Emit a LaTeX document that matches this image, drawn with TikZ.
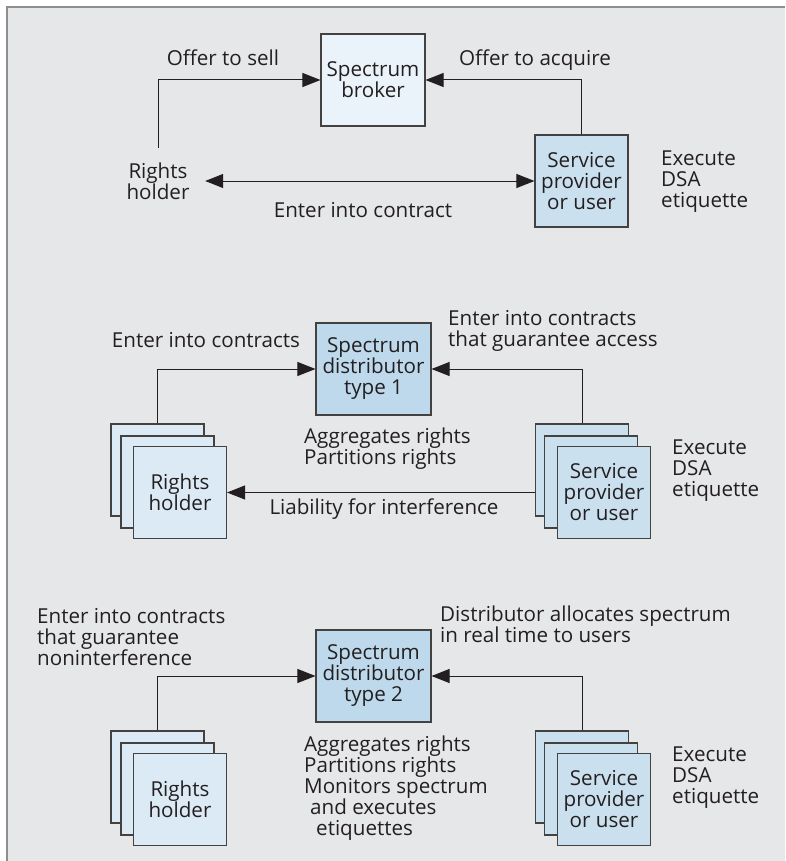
\documentclass[tikz,border=0pt]{standalone}
\usepackage{fontspec}
\setmainfont{Open Sans}
\usetikzlibrary{arrows.meta}
\definecolor{panelgray}{HTML}{E6E7E9}
\definecolor{framegray}{HTML}{8E8E90}
\definecolor{brokerblue}{HTML}{EBF3FA}
\definecolor{userblue}{HTML}{CBE0EF}
\definecolor{distblue}{HTML}{BDD9EB}
\definecolor{holderblue}{HTML}{DCEAF5}
\definecolor{inkgray}{HTML}{231F20}
\begin{document}
\begin{tikzpicture}[x=1pt, y=-1pt,
  every node/.style={font=\fontsize{20.6}{21}\selectfont, text=inkgray},
  box/.style={draw=inkgray!85, line width=1.1pt, minimum width=93pt, minimum height=92pt, inner sep=0pt, align=center},
  lbl/.style={inner sep=0pt, align=left},
  arr/.style={draw=inkgray, line width=1pt, -{Triangle[length=18pt,width=14pt]}},
  dblarr/.style={arr, {Triangle[length=18pt,width=14pt]}-{Triangle[length=18pt,width=14pt]}}]
  \useasboundingbox (0,0) rectangle (785,861);
  \fill[panelgray] (7,7) rectangle (785,861);
  \draw[framegray, line width=2pt] (7,861) -- (7,7) -- (785,7);

  % broker
  \node[box, fill=brokerblue, minimum width=104pt] (broker) at (373,80) {Spectrum\\broker};
  \node[box, fill=userblue] (svc1) at (581.5,181) {Service\\provider\\or user};
  \node[align=center, inner sep=0pt, minimum width=94pt, minimum height=66pt] (rh1) at (158,181) {Rights\\holder};
  \node[lbl, anchor=base] (sell) at (223,66) {Offer to sell};
  \node[lbl, anchor=base] (acquire) at (535,66) {Offer to acquire};
  \node[lbl, anchor=base] (contract) at (363,217) {Enter into contract};
  \node[lbl, anchor=west] (dsa1) at (661,182) {Execute\\DSA\\etiquette};
  \draw[arr] (rh1.north) |- (broker.west);
  \draw[arr] (svc1.north) |- (broker.east);
  \draw[dblarr] (rh1.east) -- (svc1.west);

  % distributor type 1
  \node[box, fill=distblue, minimum width=115pt] (dist1) at (373.5,369) {Spectrum\\distributor\\type 1};
  \node[box, fill=holderblue] (rh2a) at (157.5,470) {};
  \node[box, fill=holderblue] (rh2b) at (167.5,482) {};
  \node[box, fill=holderblue] (rh2) at (180,492.5) {Rights\\holder};
  \node[box, fill=userblue] (sp2a) at (582,470) {};
  \node[box, fill=userblue] (sp2b) at (591,482) {};
  \node[box, fill=userblue] (sp2) at (604,492.5) {Service\\provider\\or user};
  \node[lbl, anchor=base] (contracts2) at (206,347) {Enter into contracts};
  \node[lbl, anchor=west] (access2) at (448,331) {Enter into contracts\\that guarantee access};
  \node[lbl, anchor=west] (rights2) at (304,449) {Aggregates rights\\Partitions rights};
  \node[lbl, anchor=west] (dsa2) at (672,471) {Execute\\DSA\\etiquette};
  \node[lbl, anchor=base] (liability) at (384,514) {Liability for interference};
  \draw[arr] (rh2a.north) |- (dist1.west);
  \draw[arr] (sp2a.north) |- (dist1.east);
  \draw[arr] (rh2.east -| sp2a.west) -- (rh2.east);

  % distributor type 2
  \node[box, fill=distblue, minimum width=115pt] (dist2) at (373.5,676) {Spectrum\\distributor\\type 2};
  \node[box, fill=holderblue] (rh3a) at (157.5,777) {};
  \node[box, fill=holderblue] (rh3b) at (167.5,789) {};
  \node[box, fill=holderblue] (rh3) at (180,799.5) {Rights\\holder};
  \node[box, fill=userblue] (sp3a) at (582,777) {};
  \node[box, fill=userblue] (sp3b) at (591,789) {};
  \node[box, fill=userblue] (sp3) at (604,799.5) {Service\\provider\\or user};
  \node[lbl, anchor=west] (nonint3) at (37,637) {Enter into contracts\\that guarantee\\noninterference};
  \node[lbl, anchor=west] (realtime3) at (440,624) {Distributor allocates spectrum\\in real time to users};
  \node[lbl, anchor=west] (rights3) at (304,788) {Aggregates rights\\Partitions rights\\Monitors spectrum\\\hspace{6pt}and executes\\\hspace{12pt}etiquettes};
  \node[lbl, anchor=west] (dsa3) at (672,778) {Execute\\DSA\\etiquette};
  \draw[arr] (rh3a.north) |- (dist2.west);
  \draw[arr] (sp3a.north) |- (dist2.east);
\end{tikzpicture}
\end{document}
